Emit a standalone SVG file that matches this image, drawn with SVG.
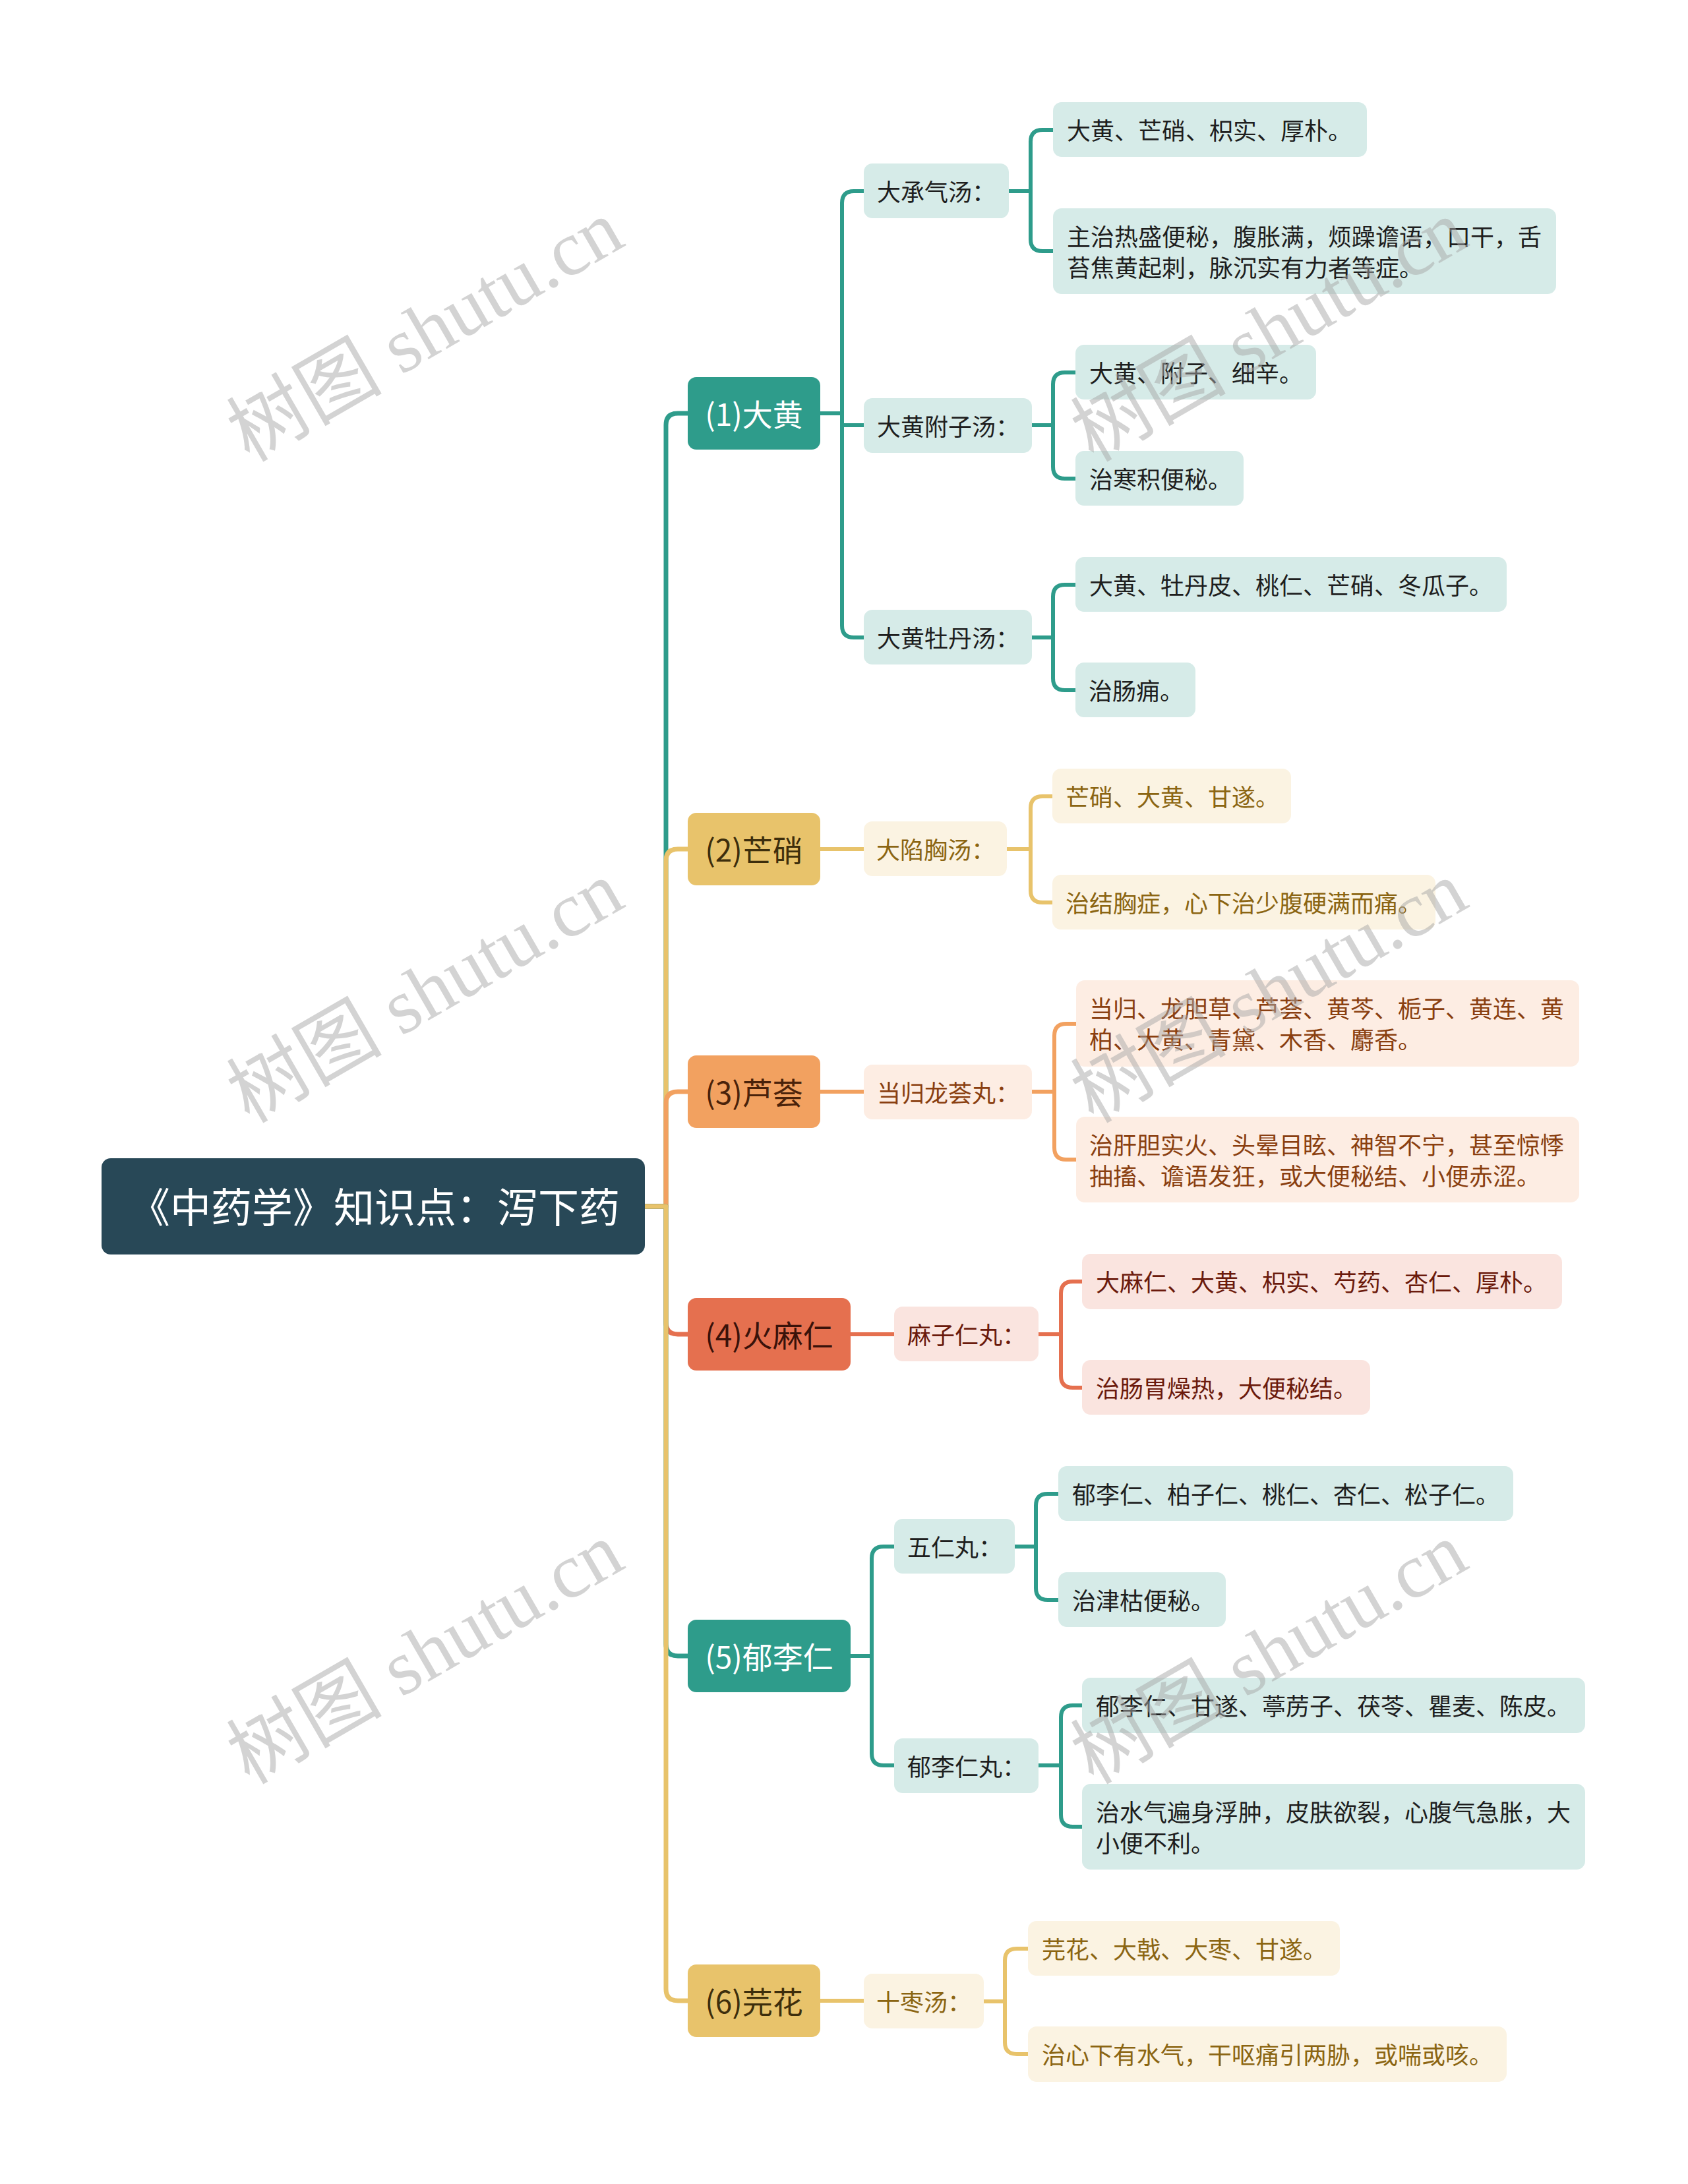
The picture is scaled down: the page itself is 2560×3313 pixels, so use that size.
<svg xmlns="http://www.w3.org/2000/svg" width="2560" height="3313" viewBox="0 0 2560 3313">
<style>
text{font-family:"Noto Sans CJK SC","Noto Sans",sans-serif}
.l1t{font-size:46px;text-anchor:middle}
.t{font-size:36px}
.c{fill:none;stroke-width:6;stroke-linecap:round;stroke-linejoin:round}
.c0{fill:none;stroke-width:7;stroke-linejoin:round}
.teal{stroke:#2E9C8B}.yel{stroke:#E8C36B}.org{stroke:#F2A160}.red{stroke:#E5704F}
.bT{fill:#2E9C8B}.bY{fill:#E8C36B}.bO{fill:#F2A160}.bR{fill:#E5704F}
.lT{fill:#D6EBE8}.lY{fill:#FBF3E2}.lO{fill:#FDEDE3}.lR{fill:#FAE4DF}
.tT{fill:#1E1E1E}.tY{fill:#8B6512}.tO{fill:#8A3F10}.tR{fill:#6B1A0C}
.wm{font-family:"Liberation Serif","Noto Sans CJK SC",serif;font-size:118px;fill:#a8a8a8;opacity:0.5}
</style>
<rect width="2560" height="3313" fill="#FFFFFF"/>
<g id="connectors">
<path class="c0 teal" d="M975,1830 H1010 V645 Q1010,627 1028,627 H1045"/>
<path class="c0 yel" d="M975,1830 H1010 V1306 Q1010,1288 1028,1288 H1045"/>
<path class="c0 org" d="M975,1830 H1010 V1674 Q1010,1656 1028,1656 H1045"/>
<path class="c0 red" d="M975,1830 H1010 V2006 Q1010,2024 1028,2024 H1045"/>
<path class="c0 teal" d="M975,1830 H1010 V2494 Q1010,2512 1028,2512 H1045"/>
<path class="c0 yel" d="M975,1830 H1010 V3017 Q1010,3035 1028,3035 H1045"/>
<path class="c teal" d="M1244,627 H1277 V308 Q1277,290 1295,290 H1312"/>
<path class="c teal" d="M1244,627 H1277 V645 H1312"/>
<path class="c teal" d="M1244,627 H1277 V949 Q1277,967 1295,967 H1312"/>
<path class="c yel" d="M1244,1288 H1312"/>
<path class="c org" d="M1244,1656 H1312"/>
<path class="c red" d="M1290,2024 H1358"/>
<path class="c teal" d="M1290,2512 H1322 V2364 Q1322,2346 1340,2346 H1358"/>
<path class="c teal" d="M1290,2512 H1322 V2660 Q1322,2678 1340,2678 H1358"/>
<path class="c yel" d="M1244,3035 H1312"/>
<path class="c teal" d="M1530,290 H1563 V215 Q1563,197 1581,197 H1599"/>
<path class="c teal" d="M1530,290 H1563 V363 Q1563,381 1581,381 H1599"/>
<path class="c teal" d="M1565,645 H1597 V583 Q1597,565 1615,565 H1633"/>
<path class="c teal" d="M1565,645 H1597 V708 Q1597,726 1615,726 H1633"/>
<path class="c teal" d="M1565,967 H1597 V905 Q1597,887 1615,887 H1633"/>
<path class="c teal" d="M1565,967 H1597 V1029 Q1597,1047 1615,1047 H1633"/>
<path class="c yel" d="M1527,1288 H1563 V1226 Q1563,1208 1581,1208 H1598"/>
<path class="c yel" d="M1527,1288 H1563 V1351 Q1563,1369 1581,1369 H1598"/>
<path class="c org" d="M1565,1656 H1599 V1571 Q1599,1553 1617,1553 H1634"/>
<path class="c org" d="M1565,1656 H1599 V1741 Q1599,1759 1617,1759 H1634"/>
<path class="c red" d="M1575,2024 H1609 V1962 Q1609,1944 1627,1944 H1643"/>
<path class="c red" d="M1575,2024 H1609 V2087 Q1609,2105 1627,2105 H1643"/>
<path class="c teal" d="M1539,2346 H1571 V2284 Q1571,2266 1589,2266 H1607"/>
<path class="c teal" d="M1539,2346 H1571 V2409 Q1571,2427 1589,2427 H1607"/>
<path class="c teal" d="M1575,2678 H1609 V2605 Q1609,2587 1627,2587 H1643"/>
<path class="c teal" d="M1575,2678 H1609 V2753 Q1609,2771 1627,2771 H1643"/>
<path class="c yel" d="M1492,3036 H1524 V2974 Q1524,2956 1542,2956 H1561"/>
<path class="c yel" d="M1492,3036 H1524 V3098 Q1524,3116 1542,3116 H1561"/>
</g>
<g id="root">
<rect x="154" y="1757" width="824" height="146" rx="14" fill="#284857"/>
<text x="568" y="1855" font-size="62" text-anchor="middle" fill="#FFFFFF">《中药学》知识点：泻下药</text>
</g>
<g id="n1"><rect class="bT" x="1043" y="572" width="201" height="110" rx="13"/><text class="l1t" x="1143.5" y="645.5" fill="#FFFFFF">(1)大黄</text></g>
<g id="n2"><rect class="bY" x="1043" y="1233" width="201" height="110" rx="13"/><text class="l1t" x="1143.5" y="1306.5" fill="#3D2E0C">(2)芒硝</text></g>
<g id="n3"><rect class="bO" x="1043" y="1601" width="201" height="110" rx="13"/><text class="l1t" x="1143.5" y="1674.5" fill="#4A220A">(3)芦荟</text></g>
<g id="n4"><rect class="bR" x="1043" y="1969" width="247" height="110" rx="13"/><text class="l1t" x="1166.5" y="2042.5" fill="#3A120A">(4)火麻仁</text></g>
<g id="n5"><rect class="bT" x="1043" y="2457" width="247" height="110" rx="13"/><text class="l1t" x="1166.5" y="2530.5" fill="#FFFFFF">(5)郁李仁</text></g>
<g id="n6"><rect class="bY" x="1043" y="2980" width="201" height="110" rx="13"/><text class="l1t" x="1143.5" y="3053.5" fill="#3D2E0C">(6)芫花</text></g>

<g id="n1a"><rect class="lT" x="1310" y="248" width="220" height="83" rx="13"/><text class="t tT" x="1330" y="304.5">大承气汤：</text></g>
<g id="n1b"><rect class="lT" x="1310" y="604" width="255" height="83" rx="13"/><text class="t tT" x="1330" y="660.5">大黄附子汤：</text></g>
<g id="n1c"><rect class="lT" x="1310" y="925" width="255" height="83" rx="13"/><text class="t tT" x="1330" y="981.5">大黄牡丹汤：</text></g>
<g id="n2a"><rect class="lY" x="1310" y="1246" width="217" height="83" rx="13"/><text class="t tY" x="1329" y="1302.5">大陷胸汤：</text></g>
<g id="n3a"><rect class="lO" x="1310" y="1615" width="255" height="83" rx="13"/><text class="t tO" x="1330" y="1671.5">当归龙荟丸：</text></g>
<g id="n4a"><rect class="lR" x="1356" y="1982" width="219" height="83" rx="13"/><text class="t tR" x="1376" y="2038.5">麻子仁丸：</text></g>
<g id="n5a"><rect class="lT" x="1356" y="2304" width="183" height="83" rx="13"/><text class="t tT" x="1376" y="2360.5">五仁丸：</text></g>
<g id="n5b"><rect class="lT" x="1356" y="2637" width="219" height="83" rx="13"/><text class="t tT" x="1376" y="2693.5">郁李仁丸：</text></g>
<g id="n6a"><rect class="lY" x="1310" y="2994" width="182" height="83" rx="13"/><text class="t tY" x="1329" y="3050.5">十枣汤：</text></g>

<g id="n1a1"><rect class="lT" x="1597" y="155" width="476" height="83" rx="13"/><text class="t tT" x="1618" y="211.5">大黄、芒硝、枳实、厚朴。</text></g>
<g id="n1a2"><rect class="lT" x="1597" y="316" width="763" height="130" rx="13"/><text class="t tT" x="1618" y="372.5">主治热盛便秘，腹胀满，烦躁谵语，口干，舌</text><text class="t tT" x="1618" y="419.5">苔焦黄起刺，脉沉实有力者等症。</text></g>
<g id="n1b1"><rect class="lT" x="1631" y="523" width="365" height="83" rx="13"/><text class="t tT" x="1652" y="579.5">大黄、附子、细辛。</text></g>
<g id="n1b2"><rect class="lT" x="1631" y="684" width="255" height="83" rx="13"/><text class="t tT" x="1652" y="740.5">治寒积便秘。</text></g>
<g id="n1c1"><rect class="lT" x="1631" y="845" width="654" height="83" rx="13"/><text class="t tT" x="1652" y="901.5">大黄、牡丹皮、桃仁、芒硝、冬瓜子。</text></g>
<g id="n1c2"><rect class="lT" x="1631" y="1005" width="182" height="83" rx="13"/><text class="t tT" x="1651" y="1061.5">治肠痈。</text></g>
<g id="n2a1"><rect class="lY" x="1596" y="1166" width="362" height="83" rx="13"/><text class="t tY" x="1616" y="1222.5">芒硝、大黄、甘遂。</text></g>
<g id="n2a2"><rect class="lY" x="1596" y="1327" width="581" height="83" rx="13"/><text class="t tY" x="1616" y="1383.5">治结胸症，心下治少腹硬满而痛。</text></g>
<g id="n3a1"><rect class="lO" x="1632" y="1487" width="763" height="131" rx="13"/><text class="t tO" x="1652" y="1544">当归、龙胆草、芦荟、黄芩、栀子、黄连、黄</text><text class="t tO" x="1652" y="1591">柏、大黄、青黛、木香、麝香。</text></g>
<g id="n3a2"><rect class="lO" x="1632" y="1694" width="763" height="130" rx="13"/><text class="t tO" x="1652" y="1750.5">治肝胆实火、头晕目眩、神智不宁，甚至惊悸</text><text class="t tO" x="1652" y="1797.5">抽搐、谵语发狂，或大便秘结、小便赤涩。</text></g>
<g id="n4a1"><rect class="lR" x="1641" y="1902" width="728" height="84" rx="13"/><text class="t tR" x="1662" y="1959">大麻仁、大黄、枳实、芍药、杏仁、厚朴。</text></g>
<g id="n4a2"><rect class="lR" x="1641" y="2063" width="437" height="83" rx="13"/><text class="t tR" x="1662" y="2119.5">治肠胃燥热，大便秘结。</text></g>
<g id="n5a1"><rect class="lT" x="1605" y="2224" width="690" height="83" rx="13"/><text class="t tT" x="1626" y="2280.5">郁李仁、柏子仁、桃仁、杏仁、松子仁。</text></g>
<g id="n5a2"><rect class="lT" x="1605" y="2385" width="254" height="83" rx="13"/><text class="t tT" x="1626" y="2441.5">治津枯便秘。</text></g>
<g id="n5b1"><rect class="lT" x="1641" y="2545" width="763" height="84" rx="13"/><text class="t tT" x="1662" y="2602">郁李仁、甘遂、葶苈子、茯苓、瞿麦、陈皮。</text></g>
<g id="n5b2"><rect class="lT" x="1641" y="2706" width="763" height="130" rx="13"/><text class="t tT" x="1662" y="2762.5">治水气遍身浮肿，皮肤欲裂，心腹气急胀，大</text><text class="t tT" x="1662" y="2809.5">小便不利。</text></g>
<g id="n6a1"><rect class="lY" x="1559" y="2914" width="473" height="83" rx="13"/><text class="t tY" x="1580" y="2970.5">芫花、大戟、大枣、甘遂。</text></g>
<g id="n6a2"><rect class="lY" x="1559" y="3074" width="726" height="84" rx="13"/><text class="t tY" x="1580" y="3131">治心下有水气，干呕痛引两胁，或喘或咳。</text></g>

<g id="watermark">
<text class="wm" transform="translate(378,702) rotate(-30)">树图 shutu.cn</text>
<text class="wm" transform="translate(1658,702) rotate(-30)">树图 shutu.cn</text>
<text class="wm" transform="translate(378,1705) rotate(-30)">树图 shutu.cn</text>
<text class="wm" transform="translate(1658,1705) rotate(-30)">树图 shutu.cn</text>
<text class="wm" transform="translate(378,2708) rotate(-30)">树图 shutu.cn</text>
<text class="wm" transform="translate(1658,2708) rotate(-30)">树图 shutu.cn</text>
</g>
</svg>
